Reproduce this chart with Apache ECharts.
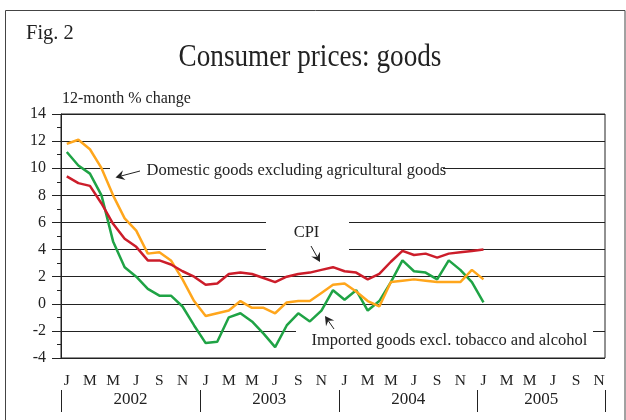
<!DOCTYPE html>
<html>
<head>
<meta charset="utf-8">
<title>Consumer prices: goods</title>
<script src="https://cdn.jsdelivr.net/npm/echarts@6/dist/echarts.min.js"></script>
<style>
  html, body { margin: 0; padding: 0; background: #fff; }
  #chart { width: 626px; height: 420px; }
</style>
</head>
<body>
<div id="chart"></div>
<script>
// axis labels
var monthLetters = ['J', 'F', 'M', 'A', 'M', 'J', 'J', 'A', 'S', 'O', 'N', 'D']
var years = ['2002', '2003', '2004', '2005']
var lastMonth = 10 // axis runs Jan 2002 .. Nov 2005 (0-based month index)

// 12-month % change, Jan 2002 .. Jan 2005
var cpi = [9.4, 8.9, 8.7, 7.4, 5.9, 4.8, 4.2, 3.2, 3.2, 2.9, 2.4, 2.0,
  1.4, 1.5, 2.2, 2.3, 2.2, 1.9, 1.6, 2.0, 2.2, 2.3, 2.5, 2.7,
  2.4, 2.3, 1.8, 2.2, 3.1, 3.9, 3.6, 3.7, 3.4, 3.7, 3.8, 3.9,
  4.0]
var domestic = [11.8, 12.1, 11.4, 10.0, 8.0, 6.3, 5.4, 3.7, 3.8, 3.2, 1.8, 0.2,
  -0.9, -0.7, -0.5, 0.2, -0.3, -0.3, -0.7, 0.1, 0.2, 0.2, 0.8, 1.4,
  1.5, 0.9, 0.2, -0.2, 1.6, 1.7, 1.8, 1.7, 1.6, 1.6, 1.6, 2.5,
  1.8]
var imported = [11.2, 10.2, 9.6, 8.0, 4.6, 2.7, 2.0, 1.1, 0.6, 0.6, -0.2, -1.6,
  -2.9, -2.8, -1.0, -0.7, -1.3, -2.2, -3.2, -1.6, -0.7, -1.3, -0.5, 1.0,
  0.3, 1.0, -0.5, 0.2, 1.6, 3.2, 2.4, 2.3, 1.8, 3.2, 2.5, 1.6,
  0.1]

var serif = '"Liberation Serif", "DejaVu Serif", serif'
var ink = '#222'

// category per month on the axis
var categories = []
years.forEach(function(y, yi) {
  monthLetters.forEach(function(m, mi) {
    if (yi === years.length - 1 && mi > lastMonth) return
    categories.push(y + '-' + (mi + 1))
  })
})
var nMonths = categories.length
var yearTicks = [0, 12, 24, 36, nMonths]
var yearLabelPos = [6, 18, 30, (36 + nMonths) / 2]

// small arrow: line plus a notched head at (x2, y2)
function arrow(x1, y1, x2, y2) {
  var dx = x2 - x1, dy = y2 - y1
  var len = Math.sqrt(dx * dx + dy * dy)
  var ux = dx / len, uy = dy / len
  var px = -uy, py = ux
  var hl = 9, hw = 5
  var bx = x2 - ux * hl, by = y2 - uy * hl
  var nx = x2 - ux * hl * 0.65, ny = y2 - uy * hl * 0.65
  return [
    { type: 'line', z: 5, shape: { x1: x1, y1: y1, x2: nx, y2: ny }, style: { stroke: ink, lineWidth: 1 } },
    { type: 'polygon', z: 5,
      shape: { points: [[x2, y2], [bx + px * hw, by + py * hw], [nx, ny], [bx - px * hw, by - py * hw]] },
      style: { fill: ink } }
  ]
}

function label(text, x, y, size, align, sx) {
  return {
    type: 'text', z: 5, x: x, y: y, scaleX: sx || 1,
    style: { text: text, font: size + 'px ' + serif, fill: ink, align: align || 'left', verticalAlign: 'middle' }
  }
}

function whiteBox(x, y, w, h) {
  return { type: 'rect', z: 1, shape: { x: x, y: y, width: w, height: h }, style: { fill: '#fff' } }
}

var graphics = [
  { type: 'rect', z: 5, shape: { x: 5.5, y: 10.5, width: 619.5, height: 430 }, style: { fill: null, stroke: '#444', lineWidth: 1 } },
  label('Fig. 2', 26, 33, 22, 'left', 0.93),
  label('Consumer prices: goods', 310, 58, 32, 'center', 0.85),
  label('12-month % change', 62, 99, 16),
  // annotation boxes hide the grid lines behind the texts
  whiteBox(110, 158, 333, 26),
  whiteBox(266, 212, 83, 46),
  whiteBox(296, 327, 297, 29),
  label('Domestic goods excluding agricultural goods', 146.5, 170.5, 16.5),
  label('CPI', 306.5, 232.5, 16.5, 'center'),
  label('Imported goods excl. tobacco and alcohol', 311.5, 341, 16.5)
].concat(arrow(140, 171, 115.5, 177.5))
  .concat(arrow(311, 246, 320, 262))
  .concat(arrow(334, 329, 325, 316))

var chart = echarts.init(document.getElementById('chart'))
chart.setOption({
  animation: false,
  backgroundColor: '#fff',
  textStyle: { fontFamily: serif },
  grid: { left: 61, right: 21, top: 114, bottom: 62, show: true, borderColor: ink, borderWidth: 1, backgroundColor: 'transparent' },
  xAxis: [
    {
      type: 'category',
      data: categories,
      boundaryGap: true,
      axisLine: { lineStyle: { color: ink, width: 1 } },
      axisTick: { interval: 0, alignWithLabel: true, length: 6, lineStyle: { color: ink } },
      axisLabel: {
        interval: 1,
        margin: 15,
        color: ink,
        fontSize: 15.5,
        fontFamily: serif,
        formatter: function(v) { return monthLetters[+v.split('-')[1] - 1] }
      },
      splitLine: { show: false }
    },
    {
      type: 'value',
      position: 'bottom',
      offset: 32,
      min: 0,
      max: nMonths,
      axisLine: { show: false },
      axisTick: { show: true, customValues: yearTicks, length: 22, lineStyle: { color: ink } },
      axisLabel: {
        customValues: yearLabelPos,
        margin: 1,
        color: ink,
        fontSize: 17,
        fontFamily: serif,
        formatter: function(v) { return years[Math.floor(v / 12)] }
      },
      splitLine: { show: false }
    }
  ],
  yAxis: {
    type: 'value',
    min: -4,
    max: 14,
    interval: 2,
    axisLine: { show: true, lineStyle: { color: ink } },
    axisTick: { show: true, length: 9, lineStyle: { color: ink } },
    minorTick: { show: true, splitNumber: 2, length: 4, lineStyle: { color: ink } },
    axisLabel: { margin: 15, color: ink, fontSize: 16, fontFamily: serif },
    splitLine: { show: true, lineStyle: { color: ink, width: 1 } }
  },
  series: [
    { name: 'Imported goods', type: 'line', data: imported, symbol: 'none', z: 3, lineStyle: { color: '#1fa345', width: 2.5 } },
    { name: 'Domestic goods', type: 'line', data: domestic, symbol: 'none', z: 3, lineStyle: { color: '#ffa61c', width: 2.5 } },
    { name: 'CPI', type: 'line', data: cpi, symbol: 'none', z: 3, lineStyle: { color: '#cc1d2a', width: 2.5 } }
  ],
  graphic: graphics
})
</script>
</body>
</html>
